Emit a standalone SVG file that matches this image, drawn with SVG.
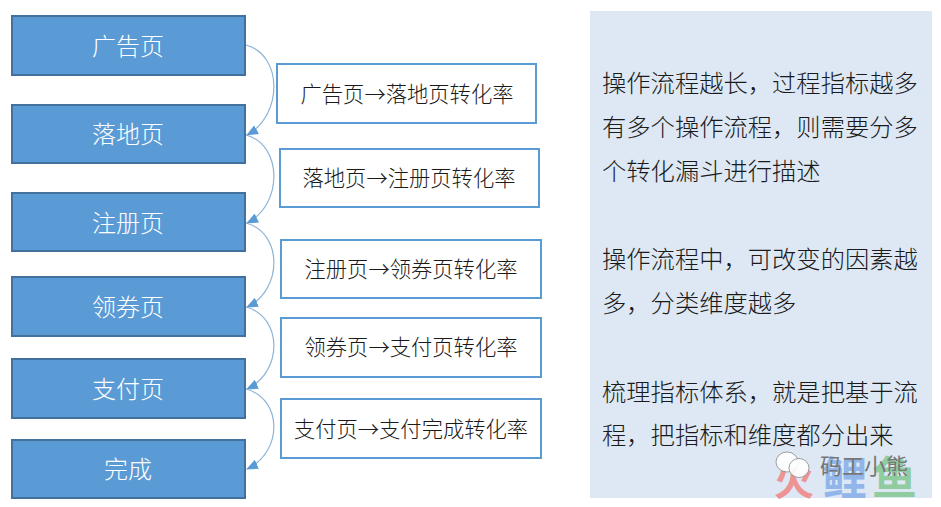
<svg xmlns="http://www.w3.org/2000/svg" width="941" height="507" viewBox="0 0 941 507">
<style>
text{font-family:"Noto Sans CJK SC","Liberation Sans",sans-serif}
.n rect{fill:#5b9bd5;stroke:#41719c;stroke-width:2}
.n text{fill:#fff;font-size:24px;text-anchor:middle;font-weight:300}
.l rect{fill:#fff;stroke:#5b9bd5;stroke-width:2}
.l text{fill:#1a1a1a;font-size:21.3px;text-anchor:middle;font-weight:300}
.c path{fill:none;stroke:#8fb4d9;stroke-width:1.2;marker-end:url(#a)}
.p text{fill:#1a1a1a;font-size:24.3px;font-weight:300}
</style>
<defs><marker id="a" markerUnits="userSpaceOnUse" markerWidth="12" markerHeight="10" refX="11" refY="5" orient="auto"><path d="M0 0L12 5L0 10Z" fill="#5b9bd5"/></marker></defs>
<rect width="941" height="507" fill="#fff"/>
<rect x="590" y="11" width="342" height="487" fill="#dde8f4"/>
<g id="connectors" class="c">
<path d="M246 45C283 55 283 115 247 135"/>
<path d="M246 135C283 145 283 205 247 223"/>
<path d="M246 223C283 233 283 290 247 307"/>
<path d="M246 307C283 317 283 372 247 389"/>
<path d="M246 389C283 399 283 452 247 469"/>
</g>
<g id="node1" class="n"><rect x="12" y="16" width="233" height="59"/><text x="128" y="55">广告页</text></g>
<g id="node2" class="n"><rect x="12" y="105" width="233" height="58"/><text x="128" y="143">落地页</text></g>
<g id="node3" class="n"><rect x="12" y="193" width="233" height="58"/><text x="128" y="232">注册页</text></g>
<g id="node4" class="n"><rect x="12" y="277" width="233" height="59"/><text x="128" y="316">领券页</text></g>
<g id="node5" class="n"><rect x="12" y="359" width="233" height="59"/><text x="128" y="398">支付页</text></g>
<g id="node6" class="n"><rect x="12" y="440" width="233" height="58"/><text x="128" y="478">完成</text></g>
<g id="label1" class="l"><rect x="277" y="64" width="259" height="59"/><text x="407" y="102">广告页→落地页转化率</text></g>
<g id="label2" class="l"><rect x="280" y="149" width="259" height="58"/><text x="409" y="186">落地页→注册页转化率</text></g>
<g id="label3" class="l"><rect x="281" y="240" width="260" height="58"/><text x="411" y="277">注册页→领券页转化率</text></g>
<g id="label4" class="l"><rect x="281" y="318" width="260" height="59"/><text x="411" y="355">领券页→支付页转化率</text></g>
<g id="label5" class="l"><rect x="281" y="399" width="260" height="59"/><text x="411" y="437">支付页→支付完成转化率</text></g>
<g id="notes" class="p">
<text x="602" y="92">操作流程越长，过程指标越多</text>
<text x="602" y="136">有多个操作流程，则需要分多</text>
<text x="602" y="180">个转化漏斗进行描述</text>
<text x="602" y="268">操作流程中，可改变的因素越</text>
<text x="602" y="312">多，分类维度越多</text>
<text x="602" y="401">梳理指标体系，就是把基于流</text>
<text x="602" y="444">程，把指标和维度都分出来</text>
</g>
<g id="watermark">
<text x="774" y="495" font-size="40" font-weight="700" fill="#f08a8a" opacity=".9">火</text>
<text x="822" y="495" font-size="45" font-weight="700" fill="#8fb4ea" opacity=".95">鲤</text>
<text x="872" y="495" font-size="45" font-weight="700" fill="#8ccb9c" opacity=".95">鱼</text>
<ellipse cx="787" cy="462" rx="11" ry="10" fill="#fff" fill-opacity=".9" stroke="#888" stroke-width=".8"/>
<ellipse cx="799" cy="468" rx="10" ry="9.500" fill="#fff" fill-opacity=".9" stroke="#888" stroke-width=".8"/>
<text x="820" y="474" font-size="22" fill="#777">码工小熊</text>
</g>
</svg>
